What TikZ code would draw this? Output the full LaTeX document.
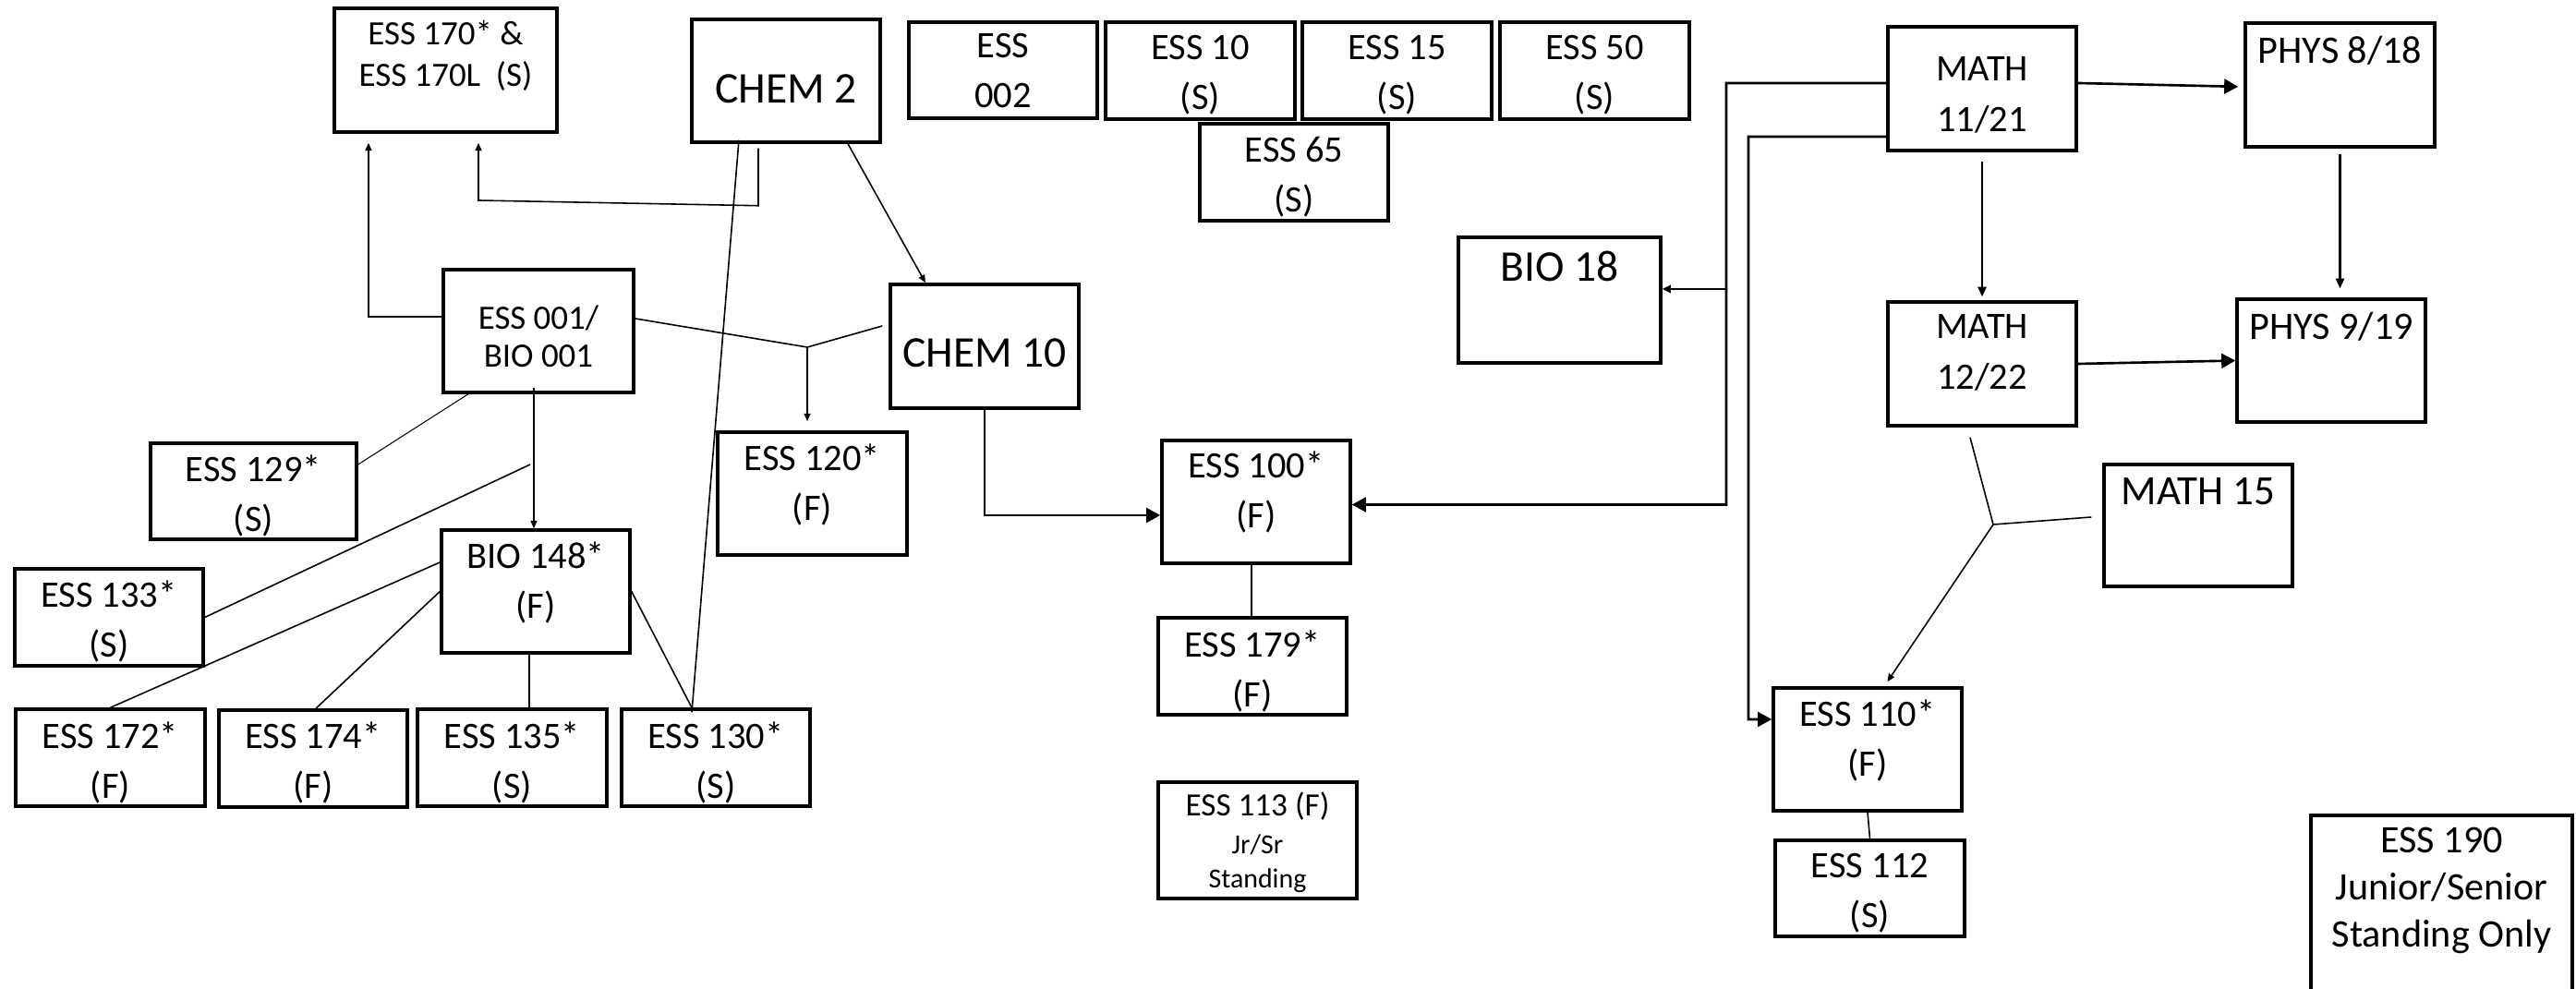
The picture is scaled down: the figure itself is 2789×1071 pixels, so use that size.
\documentclass[tikz,border=0pt]{standalone}
\usepackage{fontspec}
\setmainfont{Carlito}
\usetikzlibrary{arrows.meta}

\tikzset{
	box/.style 2 args={draw, line width=1pt, minimum width=#1*0.01cm, minimum height=#2*0.01cm, inner sep=0pt},
	txt/.style={anchor=north, align=center, inner sep=0pt, font=\fontsize{11.5}{15.4}\selectfont},
	bigtxt/.style={txt, font=\fontsize{13.5}{16}\selectfont},
	link/.style={line width=0.45pt},
	req/.style={line width=0.45pt, -{Triangle[length=2.4pt,width=2pt]}},
	reqmid/.style={line width=0.6pt, -{Triangle[length=3pt,width=2.6pt]}},
	reqbold/.style={line width=0.75pt, -{Triangle[length=4.3pt,width=4.5pt]}}
}

\begin{document}
\begin{tikzpicture}[x=0.01cm, y=-0.01cm]
		\useasboundingbox (0,0) rectangle (2789,1071);
		
		% top row
		\node[box={241}{134}, label={[txt, yshift=-0.14cm, font=\fontsize{10.5}{12.8}\selectfont]north:{ESS 170* \&\\ESS 170L~~(S)}}] (ess170) at (482.5,76) {};
		\node[box={204}{133}, label={[bigtxt, yshift=-0.61cm]north:CHEM 2}] (chem2) at (851,87.5) {};
		\node[box={204}{104}, label={[txt, yshift=-0.13cm]north:{ESS\\002}}] (ess002) at (1086,76) {};
		\node[box={205}{105}, label={[txt, yshift=-0.15cm]north:{ESS 10\\(S)}}] (ess10) at (1299.5,76.5) {};
		\node[box={205}{105}, label={[txt, yshift=-0.15cm]north:{ESS 15\\(S)}}] (ess15) at (1512.5,76.5) {};
		\node[box={205}{105}, label={[txt, yshift=-0.15cm]north:{ESS 50\\(S)}}] (ess50) at (1726.5,76.5) {};
		\node[box={204}{105}, label={[txt, yshift=-0.15cm]north:{ESS 65\\(S)}}] (ess65) at (1401,186.5) {};
		
		% left part
		\node[box={206}{133}, label={[txt, yshift=-0.40cm, font=\fontsize{10.5}{11.5}\selectfont]north:{ESS 001/\\BIO 001}}] (ess001) at (583,358.5) {};
		\node[box={204}{134}, label={[bigtxt, yshift=-0.60cm]north:CHEM 10}] (chem10) at (1066,375) {};
		\node[box={223}{104}, label={[txt, yshift=-0.14cm]north:{ESS 129*\\(S)}}] (ess129) at (274.5,532) {};
		\node[box={205}{133}, label={[txt, yshift=-0.14cm]north:{ESS 120*\\(F)}}] (ess120) at (879.5,534.5) {};
		\node[box={204}{105}, label={[txt, yshift=-0.14cm]north:{ESS 133*\\(S)}}] (ess133) at (118,668.5) {};
		\node[box={204}{133}, label={[txt, yshift=-0.14cm]north:{BIO 148*\\(F)}}] (bio148) at (580,640.5) {};
		\node[box={205}{105}, label={[txt, yshift=-0.15cm]north:{ESS 172*\\(F)}}] (ess172) at (119.5,820.5) {};
		\node[box={204}{105}, label={[txt, yshift=-0.14cm]north:{ESS 174*\\(F)}}] (ess174) at (339,821.5) {};
		\node[box={205}{105}, label={[txt, yshift=-0.15cm]north:{ESS 135*\\(S)}}] (ess135) at (554.5,820.5) {};
		\node[box={204}{105}, label={[txt, yshift=-0.15cm]north:{ESS 130*\\(S)}}] (ess130) at (775,820.5) {};
		
		% middle
		\node[box={219}{136}, label={[bigtxt, yshift=-0.16cm]north:BIO 18}] (bio18) at (1688.5,325) {};
		\node[box={204}{133}, label={[txt, yshift=-0.13cm]north:{ESS 100*\\(F)}}] (ess100) at (1360,543.5) {};
		\node[box={204}{105}, label={[txt, yshift=-0.15cm]north:{ESS 179*\\(F)}}] (ess179) at (1356,721.5) {};
		\node[box={215}{126}, label={[txt, yshift=-0.12cm, font=\fontsize{8.5}{10.5}\selectfont]north:{{\fontsize{10}{12}\selectfont ESS 113 (F)}\\[1pt]Jr/Sr\\Standing}}] (ess113) at (1361.5,910) {};
		
		% right part
		\node[box={204}{134}, label={[txt, yshift=-0.34cm]north:{MATH\\11/21}}] (math1121) at (2146,96) {};
		\node[box={205}{134}, label={[txt, yshift=-0.15cm, font=\fontsize{12}{14.5}\selectfont]north:PHYS 8/18}] (phys818) at (2533.5,92) {};
		\node[box={204}{134}, label={[txt, yshift=-0.15cm]north:{MATH\\12/22}}] (math1222) at (2146,394) {};
		\node[box={204}{133}, label={[txt, yshift=-0.15cm, font=\fontsize{12}{14.5}\selectfont]north:PHYS 9/19}] (phys919) at (2524,390.5) {};
		\node[box={204}{132}, label={[txt, yshift=-0.16cm, font=\fontsize{12.8}{15}\selectfont]north:MATH 15}] (math15) at (2380,569) {};
		\node[box={204}{133}, label={[txt, yshift=-0.14cm]north:{ESS 110*\\(F)}}] (ess110) at (2022,811.5) {};
		\node[box={205}{104}, label={[txt, yshift=-0.15cm]north:{ESS 112\\(S)}}] (ess112) at (2024.5,962) {};
		\node[box={283}{202}, label={[txt, yshift=-0.14cm, font=\fontsize{12}{14.5}\selectfont]north:{ESS 190\\Junior/Senior\\Standing Only}}] (ess190) at (2643.5,984) {};
		
		% junctions
		\coordinate (j120) at (874,376);
		\coordinate (j133) at (574,503);
		\coordinate (j110) at (2158,568);
		\coordinate (busn) at (1869,90);
		\coordinate (busm) at (1893,148);
		
		% into ESS 170
		\draw[req, shorten >=0.1cm] ([yshift=0.155cm]ess001.west) -| ([xshift=-0.835cm]ess170.south);
		\draw[req, shorten >=0.1cm] ([xshift=-0.3cm,yshift=-0.05cm]chem2.south) -- ++(0,62) -- ([xshift=0.355cm]ess170.south |- 0,217) -- ([xshift=0.355cm]ess170.south);
		
		% chemistry
		\draw[req] ([xshift=0.67cm]chem2.south) -- ([xshift=-0.64cm]chem10.north);
		\draw[link] ([xshift=-0.51cm,yshift=0.04cm]chem2.south) -- ([xshift=-0.26cm,yshift=-0.05cm]ess130.north);
		\draw[link] ([yshift=0.135cm]ess001.east) -- (j120) -- ([xshift=-0.07cm,yshift=0.22cm]chem10.west);
		\draw[req, shorten >=0.1cm] (j120) -- ([xshift=-0.055cm]ess120.north);
		\draw[reqbold] (chem10.south) |- ([yshift=-0.145cm]ess100.west);
		
		% biology branch
		\draw[req] ([xshift=-0.05cm,yshift=0.07cm]ess001.south) -- ([xshift=-0.05cm]ess001.south |- bio148.north);
		\draw[line width=0.3pt] ([xshift=-0.76cm]ess001.south) -- ([yshift=0.29cm]ess129.east);
		\draw[link] (ess133.east) -- (j133);
		\draw[link] ([yshift=0.315cm]bio148.west) -- (ess172.north);
		\draw[link] (bio148.west) -- ([xshift=0.03cm]ess174.north);
		\draw[link] ([xshift=0.185cm]ess135.north |- bio148.south) -- ([xshift=0.185cm]ess135.north);
		\draw[link] (bio148.east) -- ([xshift=-0.26cm]ess130.north);
		
		\draw[link] ([xshift=-0.05cm]ess100.south) -- ([xshift=-0.05cm]ess100.south |- ess179.north);
		
		% math and physics
		\draw[reqbold] ([yshift=0.06cm]math1121.west) -- (busn) |- ([yshift=-0.03cm]ess100.east);
		\draw[line width=0.75pt, -{Triangle[length=2.6pt,width=2.4pt]}] ([yshift=0.12cm]bio18.east -| busn) -- ([yshift=0.12cm]bio18.east);
		\draw[reqbold] ([yshift=-0.52cm]math1121.west) -- (busm) |- ([yshift=0.325cm]ess110.west);
		\draw[reqmid, shorten >=0.04cm] ([yshift=-0.1cm]math1121.south) -- (math1222.north);
		\draw[reqbold, shorten >=0.06cm] ([yshift=0.06cm]math1121.east) -- ([yshift=-0.02cm]phys818.west);
		\draw[reqmid, shorten >=0.1cm] ([yshift=-0.06cm]phys818.south) -- (phys818.south |- phys919.north);
		\draw[reqbold] (math1222.east) -- (phys919.west);
		
		\draw[link] ([xshift=-0.13cm,yshift=-0.11cm]math1222.south) -- (j110) -- ([xshift=-0.12cm,yshift=0.09cm]math15.west);
		\draw[req, shorten >=0.06cm] (j110) -- ([xshift=0.18cm]ess110.north);
		\draw[link] (ess110.south) -- (ess112.north);
	\end{tikzpicture}
\end{document}
